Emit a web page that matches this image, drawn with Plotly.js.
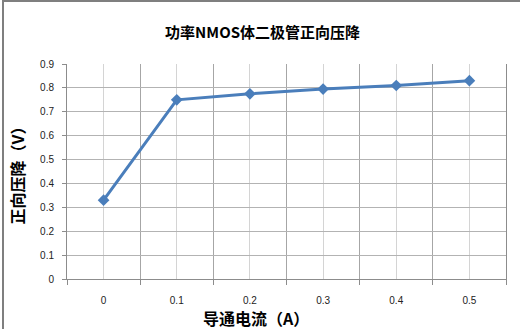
<!DOCTYPE html>
<html>
<head>
<meta charset="utf-8">
<script src="https://cdn.plot.ly/plotly-3.0.1.min.js"></script>
<style>
  html, body { margin: 0; padding: 0; background: #fff; }
  #wrap { position: relative; width: 520px; height: 329px; overflow: hidden; }
  #chart { width: 520px; height: 329px; }
  #frame {
    position: absolute; left: 2px; top: 0px; width: 600px; height: 400px;
    border-left: 2px solid #7f7f7f; border-top: 2px solid #7f7f7f;
    pointer-events: none;
  }
</style>
</head>
<body>
<div id="wrap">
  <div id="chart"></div>
  <div id="frame"></div>
</div>
<script>
// Conduction current (A) and measured body-diode forward voltage (V)
const currents = [0, 0.1, 0.2, 0.3, 0.4, 0.5];
const forwardVoltage = [0.33, 0.75, 0.775, 0.795, 0.81, 0.83];
const currentLabels = ['0', '0.1', '0.2', '0.3', '0.4', '0.5'];
const voltageTicks = [0, 0.1, 0.2, 0.3, 0.4, 0.5, 0.6, 0.7, 0.8, 0.9];

const cjk = '"Noto Sans CJK SC", "Noto Sans", sans-serif';
const tickFont = { family: '"Liberation Sans", Arial, sans-serif', size: 10, color: '#222' };

const trace = {
  x: currents,
  y: forwardVoltage,
  type: 'scatter',
  mode: 'lines+markers',
  line: { color: '#4a7ebb', width: 3 },
  marker: { symbol: 'diamond', size: 9, color: '#4a7ebb' },
  hoverinfo: 'x+y'
};

const layout = {
  width: 520,
  height: 329,
  margin: { l: 67, r: 14, t: 64, b: 50 },
  paper_bgcolor: '#fff',
  plot_bgcolor: '#fff',
  showlegend: false,
  title: {
    text: '<b>功率NMOS体二极管正向压降</b>',
    font: { family: cjk, size: 15, color: '#000' },
    x: 0.505, xanchor: 'center', y: 0.9, yanchor: 'middle'
  },
  xaxis: {
    range: [-0.05, 0.55],
    tickvals: currents,
    ticktext: currentLabels,
    ticks: '',
    ticklabelstandoff: 12,
    tickfont: tickFont,
    showgrid: true,
    gridcolor: '#d4d4d4',
    gridwidth: 1,
    minor: {
      tick0: 0.05, dtick: 0.1,
      ticks: 'outside', ticklen: 5, tickcolor: '#8c8c8c',
      showgrid: true, gridcolor: '#a6a6a6', gridwidth: 1
    },
    showline: true, linecolor: '#8c8c8c', linewidth: 1,
    zeroline: false,
    fixedrange: true,
    title: { text: '' }
  },
  yaxis: {
    range: [0, 0.9],
    tickvals: voltageTicks,
    tickformat: '',
    ticks: 'outside', ticklen: 4, tickcolor: '#8c8c8c',
    ticklabelstandoff: 6,
    tickfont: tickFont,
    showgrid: true, gridcolor: '#b3b3b3', gridwidth: 1,
    showline: true, linecolor: '#8c8c8c', linewidth: 1, mirror: true,
    zeroline: false,
    fixedrange: true,
    title: {
      text: '<b>正向压降（V）</b>',
      font: { family: cjk, size: 16, color: '#000' },
      standoff: 11
    }
  },
  annotations: [{
    text: '<b>导通电流（A）</b>',
    xref: 'paper', yref: 'paper',
    x: 0.43, y: -0.18, xanchor: 'center', yanchor: 'middle',
    showarrow: false,
    font: { family: cjk, size: 16, color: '#000' }
  }]
};

Plotly.newPlot('chart', [trace], layout, { displayModeBar: false, staticPlot: true });
</script>
</body>
</html>
